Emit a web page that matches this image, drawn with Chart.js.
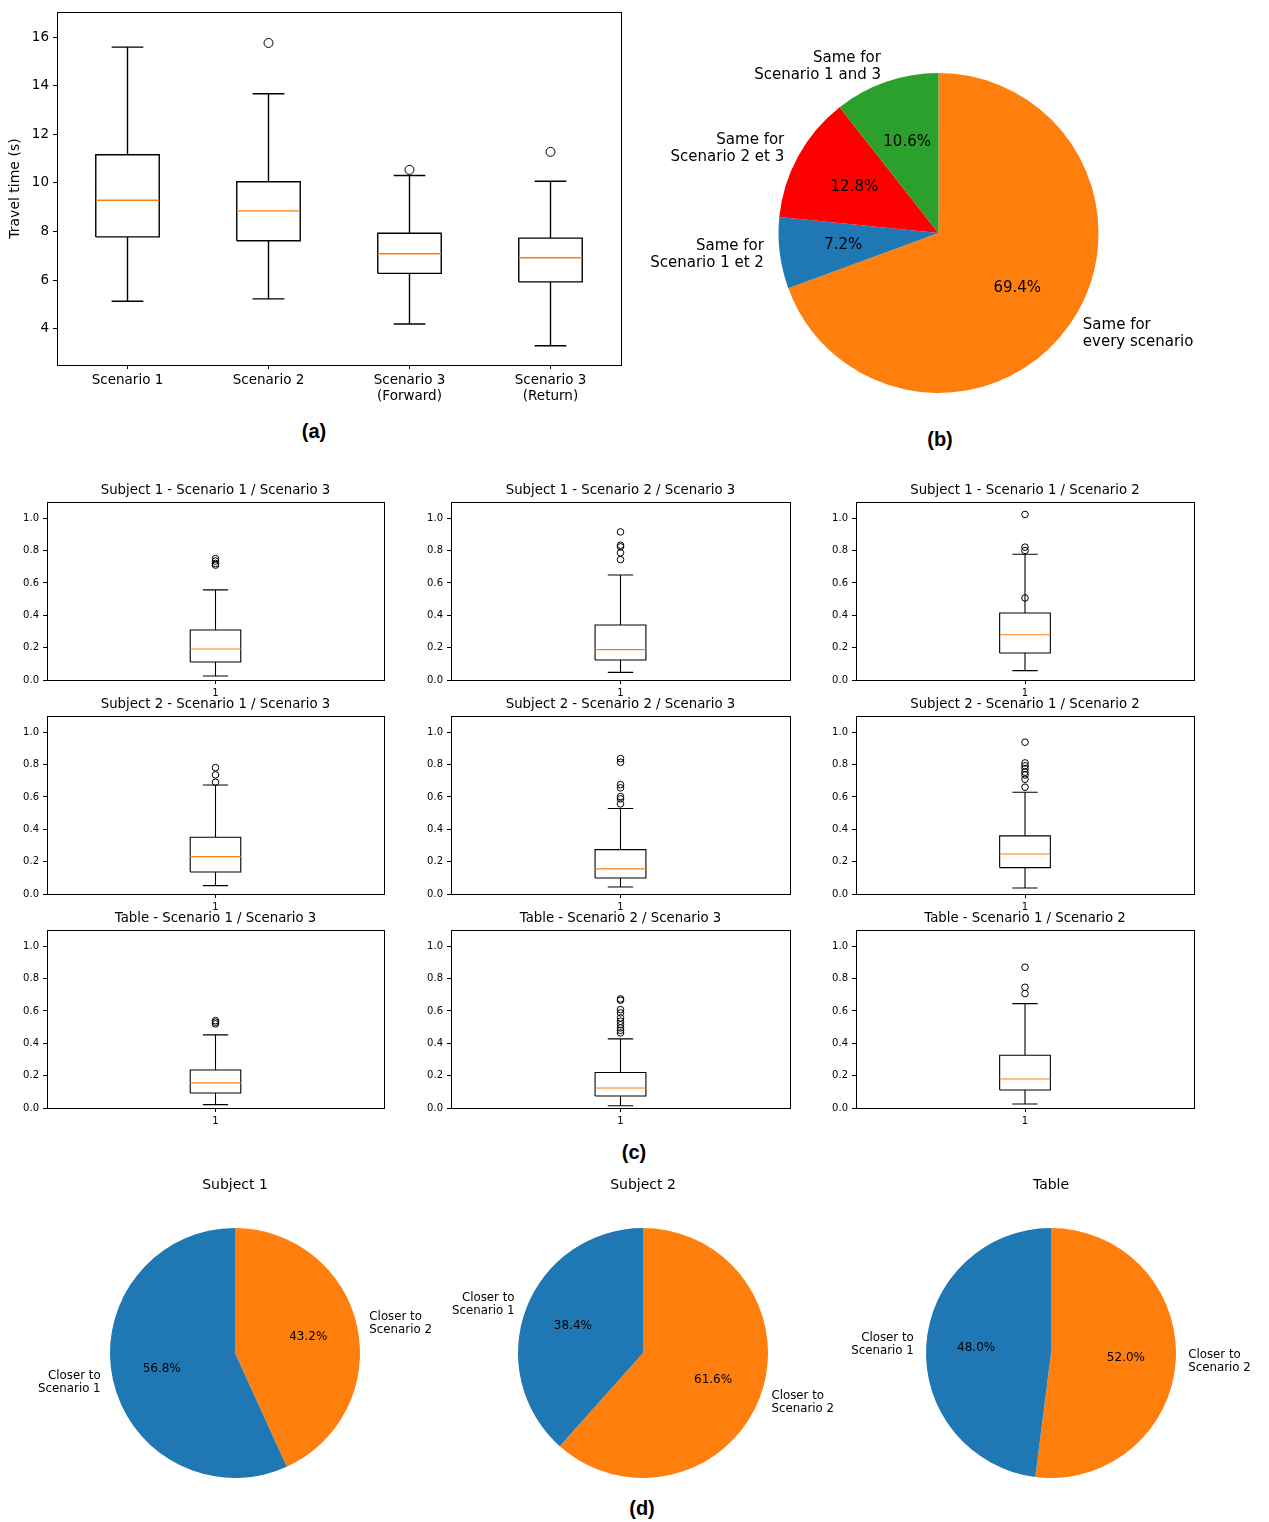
<!DOCTYPE html>
<html lang="en">
<head>
  <meta charset="UTF-8" />
  <title>Travel time and scenario similarity</title>
  <script src="https://cdn.jsdelivr.net/npm/chart.js"></script>
  <style>
    body { margin: 0; background: #fff; }
    #fig { position: relative; width: 1269px; height: 1522px; overflow: hidden; background: #fff; }
    #fig canvas { position: absolute; }
    .tag { position: absolute; font: bold 20px "Liberation Sans", Arial, sans-serif; transform: translate(-50%, -50%); color: #000; }
  </style>
</head>
<body>
  <div id="fig">
    <div class="tag" style="left:314px; top:431px">(a)</div>
    <div class="tag" style="left:940px; top:439px">(b)</div>
    <div class="tag" style="left:634px; top:1152px">(c)</div>
    <div class="tag" style="left:642px; top:1508px">(d)</div>
  </div>

  <script>
    // (a) travel time per scenario
    const travelCats = [['Scenario 1'], ['Scenario 2'], ['Scenario 3', '(Forward)'], ['Scenario 3', '(Return)']];
    const travelLow = [5.13, 5.23, 4.20, 3.30];
    const travelQ1 = [7.78, 7.62, 6.28, 5.93];
    const travelMed = [9.29, 8.85, 7.09, 6.92];
    const travelQ3 = [11.16, 10.05, 7.93, 7.73];
    const travelHigh = [15.59, 13.67, 10.31, 10.07];
    const travelOut = [[], [15.76], [10.54], [11.28]];
    const travelTicks = [4, 6, 8, 10, 12, 14, 16];

    // (b) shares, listed clockwise from the top
    const sameLabels = [['Same for', 'every scenario'], ['Same for', 'Scenario 1 et 2'], ['Same for', 'Scenario 2 et 3'], ['Same for', 'Scenario 1 and 3']];
    const sameValues = [69.4, 7.2, 12.8, 10.6];
    const sameColors = ['#ff7f0e', '#1f77b4', '#ff0000', '#2ca02c'];

    // (c) distance distributions
    const diffTitles = [
      'Subject 1 - Scenario 1 / Scenario 3', 'Subject 1 - Scenario 2 / Scenario 3', 'Subject 1 - Scenario 1 / Scenario 2',
      'Subject 2 - Scenario 1 / Scenario 3', 'Subject 2 - Scenario 2 / Scenario 3', 'Subject 2 - Scenario 1 / Scenario 2',
      'Table - Scenario 1 / Scenario 3', 'Table - Scenario 2 / Scenario 3', 'Table - Scenario 1 / Scenario 2'
    ];
    const diffLow = [0.025, 0.047, 0.058, 0.052, 0.043, 0.037, 0.021, 0.014, 0.025];
    const diffQ1 = [0.111, 0.124, 0.167, 0.136, 0.099, 0.163, 0.093, 0.074, 0.111];
    const diffMed = [0.192, 0.188, 0.280, 0.231, 0.155, 0.247, 0.155, 0.124, 0.179];
    const diffQ3 = [0.309, 0.340, 0.414, 0.351, 0.274, 0.359, 0.235, 0.219, 0.326];
    const diffHigh = [0.557, 0.649, 0.777, 0.674, 0.528, 0.629, 0.452, 0.427, 0.645];
    const diffOut = [
      [0.71, 0.72, 0.735, 0.75],
      [0.744, 0.786, 0.823, 0.833, 0.915],
      [0.507, 0.800, 0.821, 1.023],
      [0.691, 0.736, 0.781],
      [0.557, 0.588, 0.602, 0.656, 0.676, 0.814, 0.837],
      [0.660, 0.709, 0.736, 0.753, 0.775, 0.792, 0.810, 0.938],
      [0.520, 0.530, 0.540],
      [0.464, 0.480, 0.495, 0.515, 0.536, 0.557, 0.588, 0.608, 0.666, 0.674],
      [0.707, 0.746, 0.870]
    ];
    const diffTicks = [0, 0.2, 0.4, 0.6, 0.8, 1.0];

    // (d) closer to which scenario
    const closerTitles = ['Subject 1', 'Subject 2', 'Table'];
    const closerLabels = [['Closer to', 'Scenario 1'], ['Closer to', 'Scenario 2']];
    const closerS1 = [56.8, 38.4, 48.0];
    const closerS2 = [43.2, 61.6, 52.0];

    Chart.defaults.font.family = "'DejaVu Sans', 'Liberation Sans', sans-serif";
    Chart.defaults.color = '#000';

    const fig = document.getElementById('fig');
    function addCanvas(left, top, w, h) {
      const c = document.createElement('canvas');
      c.width = w; c.height = h;
      c.style.left = left + 'px'; c.style.top = top + 'px';
      c.style.width = w + 'px'; c.style.height = h + 'px';
      fig.appendChild(c);
      return c;
    }

    const framePlugin = {
      id: 'frame',
      afterDraw(chart) {
        const a = chart.chartArea, ctx = chart.ctx;
        ctx.save();
        ctx.strokeStyle = '#000';
        ctx.lineWidth = 1;
        ctx.strokeRect(Math.round(a.left) + 0.5, Math.round(a.top) + 0.5, Math.round(a.width), Math.round(a.height));
        ctx.restore();
      }
    };

    function titlePlugin(text, size, gap) {
      return {
        id: 'axTitle',
        afterDraw(chart) {
          const a = chart.chartArea, ctx = chart.ctx;
          ctx.save();
          ctx.font = size + "px 'DejaVu Sans'";
          ctx.fillStyle = '#000';
          ctx.textAlign = 'center';
          ctx.textBaseline = 'middle';
          ctx.fillText(text, (a.left + a.right) / 2, a.top - gap);
          ctx.restore();
        }
      };
    }

    // labels at 1.1 r, percentages at 0.6 r, like matplotlib's pie
    function pieTextPlugin(labels, labelSize, pctSize, lineH) {
      return {
        id: 'pieText',
        afterDraw(chart) {
          const ctx = chart.ctx;
          const vals = chart.data.datasets[0].data;
          const total = vals.reduce((s, v) => s + v, 0);
          chart.getDatasetMeta(0).data.forEach((arc, i) => {
            const mid = (arc.startAngle + arc.endAngle) / 2, R = arc.outerRadius;
            const cx = Math.cos(mid), cy = Math.sin(mid);
            ctx.save();
            ctx.fillStyle = '#000';
            ctx.textBaseline = 'middle';
            ctx.font = labelSize + "px 'DejaVu Sans'";
            ctx.textAlign = cx > 0 ? 'left' : 'right';
            const lines = labels[i];
            const lx = arc.x + cx * R * 1.1, ly = arc.y + cy * R * 1.1;
            lines.forEach((t, k) => ctx.fillText(t, lx, ly + (k - (lines.length - 1) / 2) * lineH));
            ctx.font = pctSize + "px 'DejaVu Sans'";
            ctx.textAlign = 'center';
            ctx.fillText((vals[i] / total * 100).toFixed(1) + '%', arc.x + cx * R * 0.6, arc.y + cy * R * 0.6);
            ctx.restore();
          });
        }
      };
    }

    // box outline + whiskers + caps, median, fliers as scatter datasets
    function boxDatasets(lo, q1, med, q3, hi, outs, boxW, lw, ptR) {
      const h = boxW / 2, c = boxW / 4;
      const frame = [], mid = [], pts = [];
      const gap = p => ({ x: p, y: null });
      lo.forEach((_, i) => {
        const p = i + 1;
        frame.push(
          { x: p - h, y: q1[i] }, { x: p + h, y: q1[i] }, { x: p + h, y: q3[i] }, { x: p - h, y: q3[i] }, { x: p - h, y: q1[i] }, gap(p),
          { x: p, y: q1[i] }, { x: p, y: lo[i] }, gap(p),
          { x: p - c, y: lo[i] }, { x: p + c, y: lo[i] }, gap(p),
          { x: p, y: q3[i] }, { x: p, y: hi[i] }, gap(p),
          { x: p - c, y: hi[i] }, { x: p + c, y: hi[i] }, gap(p)
        );
        mid.push({ x: p - h, y: med[i] }, { x: p + h, y: med[i] }, gap(p));
        outs[i].forEach(v => pts.push({ x: p, y: v }));
      });
      return [
        { data: mid, showLine: true, borderColor: '#ff7f0e', borderWidth: lw, pointRadius: 0, fill: false },
        { data: frame, showLine: true, borderColor: '#000', borderWidth: lw, pointRadius: 0, fill: false },
        { data: pts, showLine: false, pointRadius: ptR, pointStyle: 'circle', borderColor: '#000',
          backgroundColor: 'rgba(0,0,0,0)', pointBorderWidth: 1, borderWidth: 1 }
      ];
    }

    function axis(min, max, ticks, fmt, size, fit, pad) {
      return {
        type: 'linear', min, max, bounds: 'data',
        afterBuildTicks: s => { s.ticks = ticks.map(v => ({ value: v })); },
        afterFit: fit,
        grid: { drawOnChartArea: false, drawTicks: true, tickLength: 4, color: '#000', tickColor: '#000', lineWidth: 1 },
        border: { display: false },
        ticks: { callback: fmt, font: { size }, color: '#000', padding: pad, maxRotation: 0, autoSkip: false }
      };
    }

    // (a)
    const yA = axis(2.51, 17.03, travelTicks, v => String(v), 13.5, s => { s.width = 57; }, 4);
    yA.title = { display: true, text: 'Travel time (s)', font: { size: 14 }, color: '#000', padding: { top: 7, bottom: 0 } };
    new Chart(addCanvas(0, 0, 640, 410), {
      type: 'scatter',
      data: { datasets: boxDatasets(travelLow, travelQ1, travelMed, travelQ3, travelHigh, travelOut, 0.45, 1.4, 4.5) },
      options: {
        responsive: false, animation: false, events: [],
        layout: { padding: { top: 8, right: 19, left: 0, bottom: 0 } },
        plugins: { legend: { display: false }, tooltip: { enabled: false } },
        scales: {
          x: axis(0.5, 4.5, [1, 2, 3, 4], v => travelCats[v - 1], 13.5, s => { s.height = 45; }, 3),
          y: yA
        }
      },
      plugins: [framePlugin]
    });

    // (b)
    new Chart(addCanvas(620, 30, 649, 400), {
      type: 'pie',
      data: { labels: sameLabels.map(l => l.join(' ')), datasets: [{ data: sameValues, backgroundColor: sameColors, borderWidth: 0 }] },
      options: {
        responsive: false, animation: false, events: [],
        layout: { padding: { left: 158.5, right: 170.5, top: 43, bottom: 37 } },
        plugins: { legend: { display: false }, tooltip: { enabled: false } }
      },
      plugins: [pieTextPlugin(sameLabels, 15, 15, 17)]
    });

    // (c)
    const colL = [47, 451, 856], colR = [384, 790, 1194];
    const rowT = [502, 716, 930], rowB = [680, 894, 1108];
    diffTitles.forEach((title, k) => {
      const r = Math.floor(k / 3), c = k % 3;
      const w = colR[c] - colL[c] + 47 + 10, h = rowB[r] - rowT[r] + 24 + 18;
      const one = a => [a[k]];
      new Chart(addCanvas(colL[c] - 47, rowT[r] - 24, w, h), {
        type: 'scatter',
        data: { datasets: boxDatasets(one(diffLow), one(diffQ1), one(diffMed), one(diffQ3), one(diffHigh), one(diffOut), 0.15, 1.1, 3.3) },
        options: {
          responsive: false, animation: false, events: [],
          layout: { padding: { top: 24, right: 10, left: 0, bottom: 0 } },
          plugins: { legend: { display: false }, tooltip: { enabled: false } },
          scales: {
            x: axis(0.5, 1.5, [1], v => String(v), 10, s => { s.height = 18; }, 3),
            y: axis(0, 1.1, diffTicks, v => v.toFixed(1), 10, s => { s.width = 47; }, 4)
          }
        },
        plugins: [framePlugin, titlePlugin(title, 13.3, 11)]
      });
    });

    // (d)
    const pieCx = [235, 643, 1051];
    closerTitles.forEach((title, k) => {
      new Chart(addCanvas(pieCx[k] - 210, 1165, 420, 330), {
        type: 'pie',
        data: {
          labels: [closerLabels[1].join(' '), closerLabels[0].join(' ')],
          datasets: [{ data: [closerS2[k], closerS1[k]], backgroundColor: ['#ff7f0e', '#1f77b4'], borderWidth: 0 }]
        },
        options: {
          responsive: false, animation: false, events: [],
          layout: { padding: { left: 85, right: 85, top: 63, bottom: 17 } },
          plugins: { legend: { display: false }, tooltip: { enabled: false } }
        },
        plugins: [pieTextPlugin([closerLabels[1], closerLabels[0]], 11.8, 12, 13), titlePlugin(title, 14, 43)]
      });
    });
  </script>
</body>
</html>
